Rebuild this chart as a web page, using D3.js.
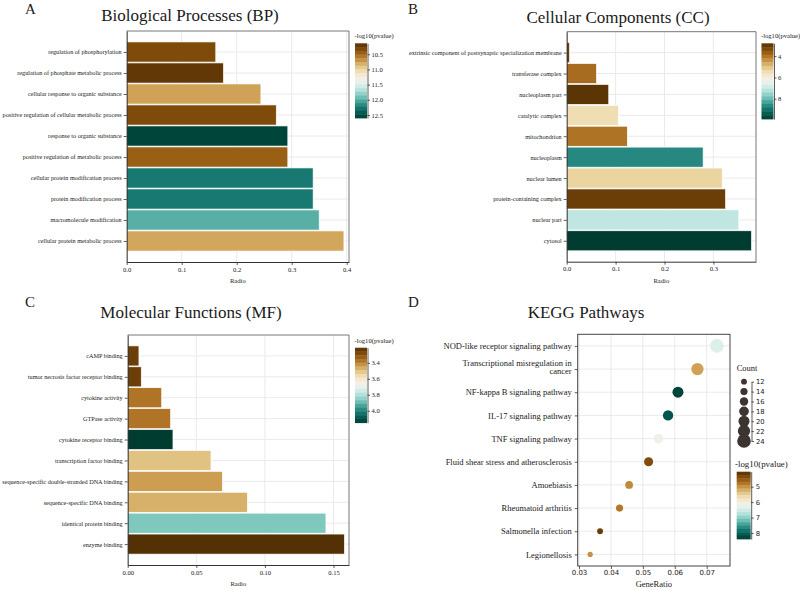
<!DOCTYPE html>
<html><head><meta charset="utf-8">
<script src="https://cdn.jsdelivr.net/npm/d3@7"></script>
<style>body{margin:0;background:#fff}svg{display:block}</style>
</head><body><svg id="c" width="800" height="590"></svg>
<script>
// ---------------- Data ----------------
const bpTerms = ["regulation of phosphorylation","regulation of phosphate metabolic process","cellular response to organic substance","positive regulation of cellular metabolic process","response to organic substance","positive regulation of metabolic process","cellular protein modification process","protein modification process","macromolecule modification","cellular protein metabolic process"];
const bpRatio = [0.162,0.176,0.244,0.272,0.293,0.293,0.339,0.339,0.350,0.395];
const bpLogP  = [10.33,10.20,10.76,10.33,12.55,10.45,12.26,12.26,12.00,10.78];
const bpTicks = [0,0.1,0.2,0.3,0.4];
const bpColorTicks = [10.5,11.0,11.5,12.0,12.5];

const ccTerms = ["extrinsic component of postsynaptic specialization membrane","transferase complex","nucleoplasm part","catalytic complex","mitochondrion","nucleoplasm","nuclear lumen","protein-containing complex","nuclear part","cytosol"];
const ccRatio = [0.006,0.061,0.086,0.106,0.124,0.279,0.318,0.325,0.352,0.378];
const ccLogP  = [3.1,3.9,2.9,5.5,4.0,8.7,5.3,3.1,7.1,9.9];
const ccTicks = [0,0.1,0.2,0.3];
const ccColorTicks = [4,6,8];

const mfTerms = ["cAMP binding","tumor necrosis factor receptor binding","cytokine activity","GTPase activity","cytokine receptor binding","transcription factor binding","sequence-specific double-stranded DNA binding","sequence-specific DNA binding","identical protein binding","enzyme binding"];
const mfRatio = [0.0082,0.0099,0.0248,0.0313,0.0330,0.0607,0.0690,0.0872,0.1445,0.1580];
const mfLogP  = [3.25,3.25,3.37,3.37,4.15,3.50,3.44,3.47,3.87,3.21];
const mfTicks = [0,0.05,0.10,0.15];
const mfColorTicks = [3.4,3.6,3.8,4.0];

const keggTerms = ["NOD-like receptor signaling pathway","Transcriptional misregulation in cancer","NF-kappa B signaling pathway","IL-17 signaling pathway","TNF signaling pathway","Fluid shear stress and atherosclerosis","Amoebiasis","Rheumatoid arthritis","Salmonella infection","Legionellosis"];
const keggRatio = [0.0732,0.0671,0.0610,0.0579,0.0549,0.0518,0.0457,0.0427,0.0366,0.0335];
const keggCount = [24,22,20,19,18,17,15,14,12,11];
const keggLogP  = [6.43,5.12,8.30,8.13,6.20,4.38,4.95,4.80,4.20,5.00];
const keggTicks = [0.03,0.04,0.05,0.06,0.07];
const countTicks = [12,14,16,18,20,22,24];
const keggColorTicks = [5,6,7,8];

// ---------------- Styles / layout ----------------
const svg = d3.select('#c');
const SERIF = "'Liberation Serif','Times New Roman',serif";
const SANS = "'DejaVu Sans','Verdana',sans-serif";
const TXT = '#1a1a1a';
const GRID = '#e8e8e8';

function styleAxis(ax, font, size){
  ax.selectAll('path.domain').attr('stroke','#333').attr('stroke-width',1);
  ax.selectAll('.tick line').attr('stroke','#333').attr('stroke-width',0.8);
  ax.selectAll('text').attr('font-family',font).attr('font-size',size).attr('fill',TXT);
}

function colorbar(color, dom, ticks, cb, fmt, font, fsize, title, tsize){
  const g = svg.append('g');
  const n = 20;
  const yS = d3.scaleLinear().domain(dom).range([cb.y0, cb.y1]);
  const h = (cb.y1 - cb.y0)/n;
  g.selectAll('rect').data(d3.range(n)).join('rect')
    .attr('x', cb.x).attr('y', i => cb.y0 + i*h).attr('width', cb.w).attr('height', h + 0.4)
    .attr('fill', i => color(yS.invert(cb.y0 + (i+0.5)*h)));
  const ax = g.append('g').attr('transform', `translate(${cb.x+cb.w+0.5},0)`)
    .call(d3.axisRight(yS).tickValues(ticks).tickSize(2.5).tickPadding(1.5).tickSizeOuter(0)
      .tickFormat(d3.format(fmt)));
  styleAxis(ax, font, fsize);
  ax.selectAll('path.domain').attr('stroke-width',0.8);
  g.append('text').attr('x', cb.x - 0.5).attr('y', cb.y0 - 5).text(title)
    .attr('font-family', SERIF).attr('font-size', tsize).attr('fill', TXT);
}

function barPanel(terms, ratio, logp, xticks, cticks, L){
  const g = svg.append('g');
  const x = d3.scaleLinear().domain([0, L.xmax]).range([L.left, L.right]);
  const y = d3.scalePoint().domain(terms).range([L.top, L.bottom]).padding(1);
  const color = d3.scaleSequential(d3.interpolateBrBG).domain(L.cdom);
  g.append('g').selectAll('line').data(xticks).join('line')
    .attr('x1', d => x(d)).attr('x2', d => x(d)).attr('y1', L.top).attr('y2', L.bottom)
    .attr('stroke', GRID).attr('stroke-width', 0.9);
  g.append('g').selectAll('line').data(terms).join('line')
    .attr('x1', L.left).attr('x2', L.right).attr('y1', d => y(d)).attr('y2', d => y(d))
    .attr('stroke', GRID).attr('stroke-width', 0.9);
  const bh = y.step()*0.96;
  g.append('g').selectAll('rect').data(terms).join('rect')
    .attr('x', x(0)).attr('y', d => y(d) - bh/2)
    .attr('width', (d,i) => x(ratio[i]) - x(0)).attr('height', bh)
    .attr('fill', (d,i) => color(logp[i])).attr('stroke', '#fff').attr('stroke-width', 0.7);
  g.append('path').attr('d', `M${L.left},${L.top}H${L.right}V${L.bottom}`)
    .attr('fill','none').attr('stroke','#666').attr('stroke-width',0.9);
  const ax = g.append('g').attr('transform', `translate(0,${L.bottom})`)
    .call(d3.axisBottom(x).tickValues(xticks).tickFormat(d3.format(L.fmt)).tickSize(3).tickPadding(2).tickSizeOuter(0));
  styleAxis(ax, SERIF, 6.6);
  const ay = g.append('g').attr('transform', `translate(${L.left},0)`)
    .call(d3.axisLeft(y).tickSize(3).tickPadding(2).tickSizeOuter(0));
  styleAxis(ay, SERIF, 6.2);
  g.append('text').attr('x', (L.left+L.right)/2).attr('y', L.bottom + 21).attr('text-anchor','middle')
    .text('Radio').attr('font-family', SERIF).attr('font-size', 6.6).attr('fill', TXT);
  g.append('text').attr('x', L.title.x).attr('y', L.title.y).attr('text-anchor','middle')
    .text(L.title.t).attr('font-family', SERIF).attr('font-size', 17).attr('fill', TXT);
  g.append('text').attr('x', L.letter.x).attr('y', L.letter.y)
    .text(L.letter.t).attr('font-family', SERIF).attr('font-size', 15).attr('fill', TXT);
  colorbar(color, L.cdom, cticks, L.cb, L.cfmt, SERIF, 6.6, '-log10(pvalue)', 6.6);
}

barPanel(bpTerms, bpRatio, bpLogP, bpTicks, bpColorTicks, {
  left:126.7, right:349, top:31, bottom:262, xmax:0.4042, fmt:'.1f', cdom:[10.14,12.6], cfmt:'.1f',
  cb:{x:355, y0:43.3, y1:118, w:12},
  title:{x:190, y:21, t:'Biological Processes (BP)'}, letter:{x:25, y:13.5, t:'A'}});

barPanel(ccTerms, ccRatio, ccLogP, ccTicks, ccColorTicks, {
  left:566.7, right:756, top:31.7, bottom:261.7, xmax:0.3871, fmt:'.1f', cdom:[2.8,9.9], cfmt:'d',
  cb:{x:761.5, y0:43.3, y1:119, w:12},
  title:{x:618, y:22.5, t:'Cellular Components (CC)'}, letter:{x:408, y:13.5, t:'B'}});

barPanel(mfTerms, mfRatio, mfLogP, mfTicks, mfColorTicks, {
  left:127.7, right:349, top:335, bottom:565, xmax:0.1613, fmt:'.2f', cdom:[3.21,4.15], cfmt:'.1f',
  cb:{x:355, y0:347.7, y1:422.7, w:12},
  title:{x:191, y:318, t:'Molecular Functions (MF)'}, letter:{x:25, y:307, t:'C'}});

// ---------------- KEGG dot plot ----------------
(function(){
  const L = {left:577.7, right:730, top:334.3, bottom:566};
  const g = svg.append('g');
  const x = d3.scaleLinear().domain([0.02959, 0.0773]).range([L.left, L.right]);
  const y = d3.scalePoint().domain(keggTerms).range([L.top, L.bottom]).padding(0.5);
  const r = d3.scaleLinear().domain([11, 24]).range([2.6, 6.8]);
  const cdom = [4.03, 8.39];
  const color = d3.scaleSequential(d3.interpolateBrBG).domain(cdom);
  g.append('g').selectAll('line').data(keggTicks).join('line')
    .attr('x1', d => x(d)).attr('x2', d => x(d)).attr('y1', L.top).attr('y2', L.bottom)
    .attr('stroke', GRID).attr('stroke-width', 0.9);
  g.append('g').selectAll('line').data(keggTerms).join('line')
    .attr('x1', L.left).attr('x2', L.right).attr('y1', d => y(d)).attr('y2', d => y(d))
    .attr('stroke', GRID).attr('stroke-width', 0.9);
  g.append('g').selectAll('circle').data(keggTerms).join('circle')
    .attr('cx', (d,i) => x(keggRatio[i])).attr('cy', d => y(d)).attr('r', (d,i) => r(keggCount[i]))
    .attr('fill', (d,i) => color(keggLogP[i]));
  g.append('rect').attr('x', L.left).attr('y', L.top).attr('width', L.right-L.left).attr('height', L.bottom-L.top)
    .attr('fill','none').attr('stroke','#444').attr('stroke-width',1);
  const ax = g.append('g').attr('transform', `translate(0,${L.bottom})`)
    .call(d3.axisBottom(x).tickValues(keggTicks).tickFormat(d3.format('.2f')).tickSize(3).tickPadding(1.5).tickSizeOuter(0));
  styleAxis(ax, SANS, 7);
  ax.select('path.domain').remove();
  const ay = g.append('g').attr('transform', `translate(${L.left},0)`)
    .call(d3.axisLeft(y).tickSize(3).tickPadding(3).tickSizeOuter(0));
  styleAxis(ay, SERIF, 8.5);
  ay.select('path.domain').remove();
  ay.selectAll('.tick text').each(function(d){
    if (d.length > 38) {
      const idx = d.lastIndexOf(' ', 38);
      const t = d3.select(this).text(null);
      t.append('tspan').attr('x', -6).attr('dy', '-0.45em').text(d.slice(0, idx));
      t.append('tspan').attr('x', -6).attr('dy', '1.0em').text(d.slice(idx+1));
    }
  });
  g.append('text').attr('x', (L.left+L.right)/2).attr('y', L.bottom + 21).attr('text-anchor','middle')
    .text('GeneRatio').attr('font-family', SERIF).attr('font-size', 8.5).attr('fill', TXT);
  g.append('text').attr('x', 586).attr('y', 318).attr('text-anchor','middle')
    .text('KEGG Pathways').attr('font-family', SERIF).attr('font-size', 17).attr('fill', TXT);
  g.append('text').attr('x', 408).attr('y', 307)
    .text('D').attr('font-family', SERIF).attr('font-size', 15).attr('fill', TXT);

  // Count legend
  const lg = svg.append('g');
  const ly = d3.scaleLinear().domain([12, 24]).range([381.7, 441]);
  lg.append('text').attr('x', 736.7).attr('y', 371).text('Count')
    .attr('font-family', SERIF).attr('font-size', 8.5).attr('fill', TXT);
  lg.selectAll('circle').data(countTicks).join('circle')
    .attr('cx', 744).attr('cy', d => ly(d)).attr('r', d => r(d)).attr('fill', '#3b3431');
  const lax = lg.append('g').attr('transform', 'translate(751.5,0)')
    .call(d3.axisRight(ly).tickValues(countTicks).tickSize(2.5).tickPadding(2).tickSizeOuter(0));
  styleAxis(lax, SANS, 6.8);
  lax.select('path.domain').attr('stroke-width', 0.8);

  // colour legend
  const cg = svg.append('g');
  const n = 20, cb = {x:736.7, y0:471.7, y1:539, w:14};
  const cy = d3.scaleLinear().domain(cdom).range([cb.y0, cb.y1]);
  const h = (cb.y1 - cb.y0)/n;
  cg.selectAll('rect').data(d3.range(n)).join('rect')
    .attr('x', cb.x).attr('y', i => cb.y0 + i*h).attr('width', cb.w).attr('height', h + 0.4)
    .attr('fill', i => color(cy.invert(cb.y0 + (i+0.5)*h)));
  const cax = cg.append('g').attr('transform', `translate(${cb.x+cb.w+0.5},0)`)
    .call(d3.axisRight(cy).tickValues(keggColorTicks).tickFormat(d3.format('d')).tickSize(2.5).tickPadding(2).tickSizeOuter(0));
  styleAxis(cax, SANS, 6.8);
  cax.select('path.domain').attr('stroke-width', 0.8);
  cg.append('text').attr('x', 735).attr('y', 467).text('-log10(pvalue)')
    .attr('font-family', SERIF).attr('font-size', 8.9).attr('fill', TXT);
})();
</script>
</body></html>
